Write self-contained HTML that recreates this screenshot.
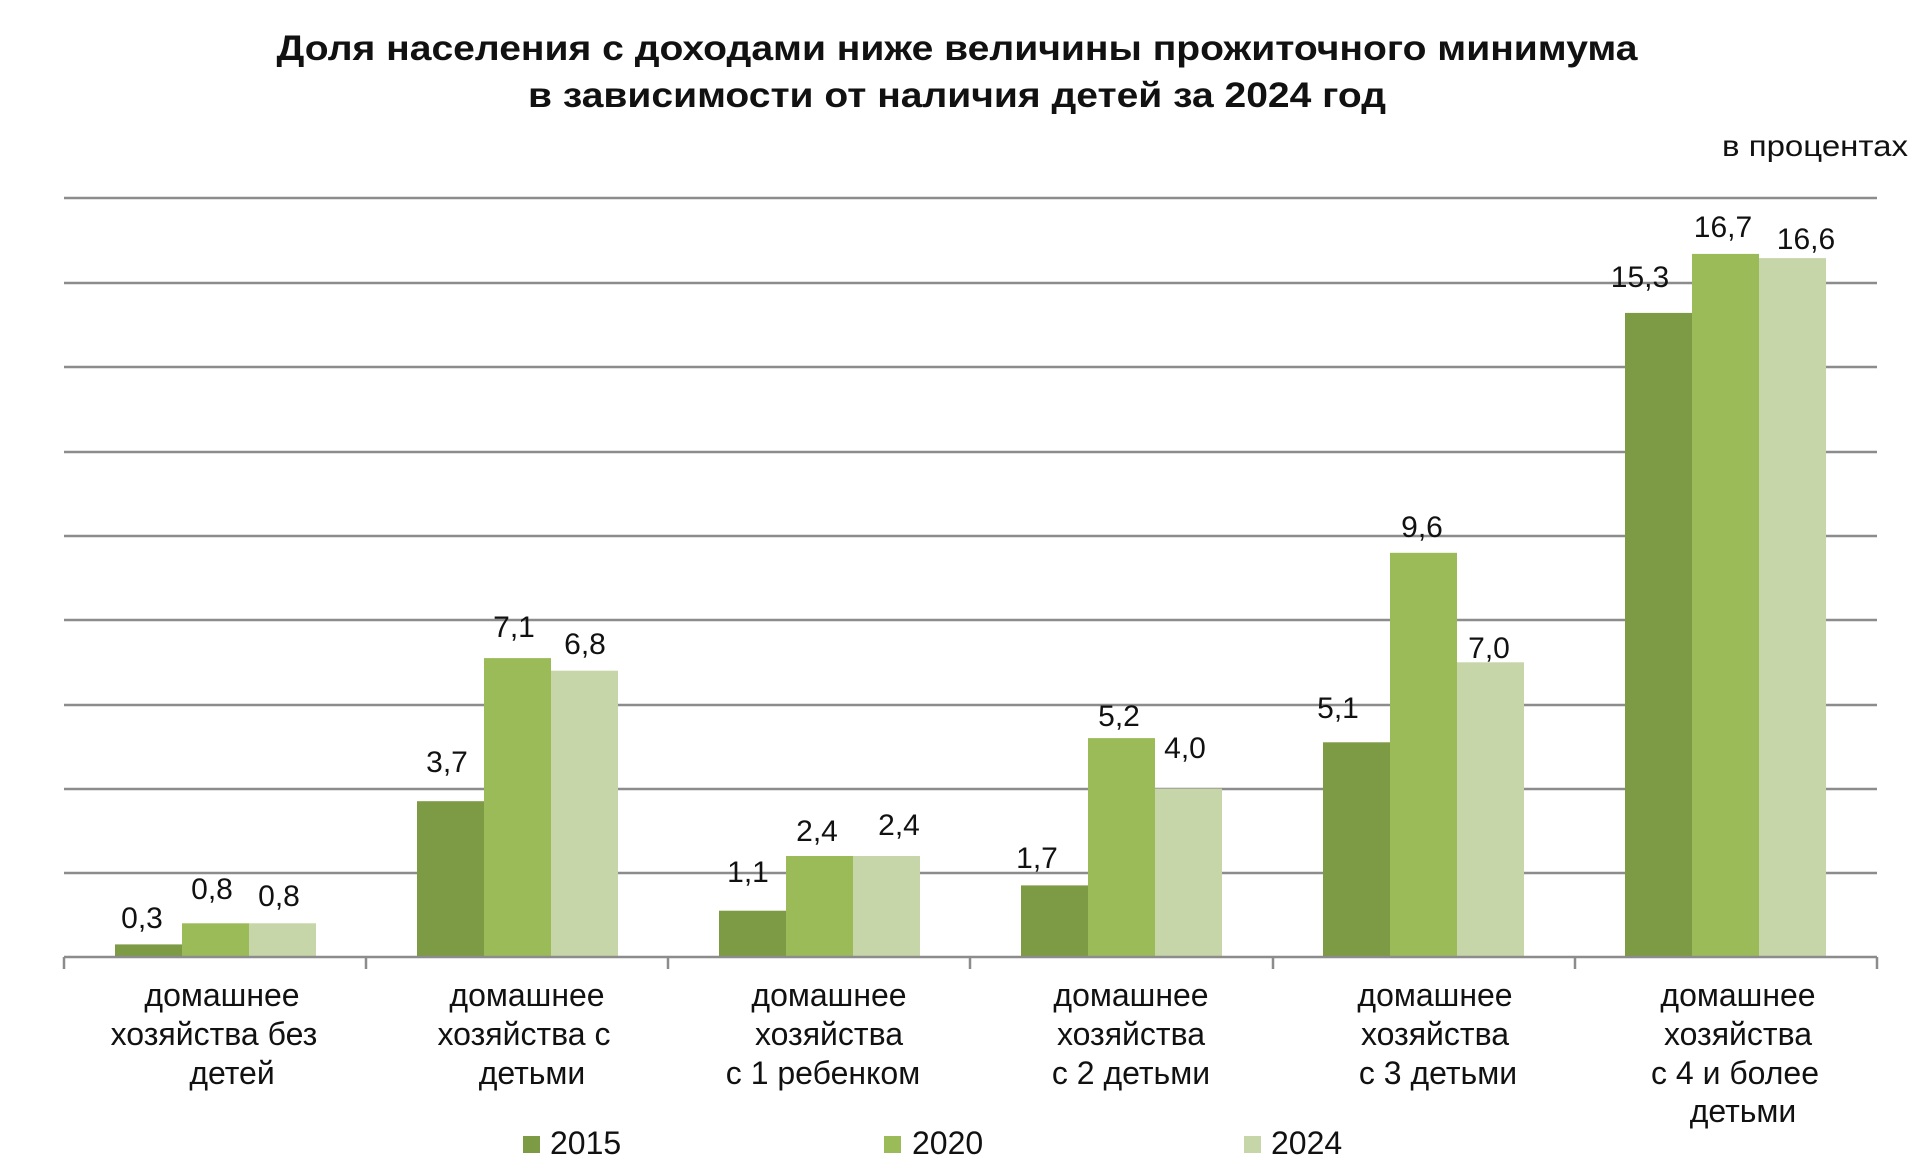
<!DOCTYPE html>
<html><head><meta charset="utf-8"><style>
html,body{margin:0;padding:0;background:#fff;}
svg{display:block;}
text{font-family:"Liberation Sans",sans-serif;fill:#111;}
.v{font-size:30px;}
.c{font-size:32px;}
</style></head><body>
<svg width="1920" height="1172" viewBox="0 0 1920 1172" xmlns="http://www.w3.org/2000/svg">
<text x="957" y="60" font-size="35" font-weight="bold" text-anchor="middle" textLength="1361" lengthAdjust="spacingAndGlyphs">Доля населения с доходами ниже величины прожиточного минимума</text>
<text x="957" y="107" font-size="35" font-weight="bold" text-anchor="middle" textLength="858" lengthAdjust="spacingAndGlyphs">в зависимости от наличия детей за 2024 год</text>
<text x="1908" y="156" font-size="30" text-anchor="end" textLength="186" lengthAdjust="spacingAndGlyphs">в процентах</text>
<g stroke="#8c8c8c" stroke-width="2.5">
<line x1="64" y1="198" x2="1877" y2="198"/>
<line x1="64" y1="283" x2="1877" y2="283"/>
<line x1="64" y1="367" x2="1877" y2="367"/>
<line x1="64" y1="452" x2="1877" y2="452"/>
<line x1="64" y1="536" x2="1877" y2="536"/>
<line x1="64" y1="620" x2="1877" y2="620"/>
<line x1="64" y1="705" x2="1877" y2="705"/>
<line x1="64" y1="789" x2="1877" y2="789"/>
<line x1="64" y1="873" x2="1877" y2="873"/>
</g>
<g>
<rect x="115" y="944.4" width="67" height="12.6" fill="#7d9a45"/><rect x="182" y="923.3" width="67" height="33.7" fill="#9bbb59"/><rect x="249" y="923.3" width="67" height="33.7" fill="#c7d6a9"/>
<rect x="417" y="801.2" width="67" height="155.8" fill="#7d9a45"/><rect x="484" y="658.1" width="67" height="298.9" fill="#9bbb59"/><rect x="551" y="670.7" width="67" height="286.3" fill="#c7d6a9"/>
<rect x="719" y="910.7" width="67" height="46.3" fill="#7d9a45"/><rect x="786" y="856" width="67" height="101" fill="#9bbb59"/><rect x="853" y="856" width="67" height="101" fill="#c7d6a9"/>
<rect x="1021" y="885.4" width="67" height="71.6" fill="#7d9a45"/><rect x="1088" y="738.1" width="67" height="218.9" fill="#9bbb59"/><rect x="1155" y="788.6" width="67" height="168.4" fill="#c7d6a9"/>
<rect x="1323" y="742.3" width="67" height="214.7" fill="#7d9a45"/><rect x="1390" y="552.8" width="67" height="404.2" fill="#9bbb59"/><rect x="1457" y="662.3" width="67" height="294.7" fill="#c7d6a9"/>
<rect x="1625" y="312.9" width="67" height="644.1" fill="#7d9a45"/><rect x="1692" y="253.9" width="67" height="703.1" fill="#9bbb59"/><rect x="1759" y="258.1" width="67" height="698.9" fill="#c7d6a9"/>
</g>
<g stroke="#8c8c8c" stroke-width="2.5">
<line x1="64" y1="957" x2="1877" y2="957"/>
<line x1="64" y1="957" x2="64" y2="969"/><line x1="366" y1="957" x2="366" y2="969"/><line x1="668" y1="957" x2="668" y2="969"/><line x1="970" y1="957" x2="970" y2="969"/><line x1="1273" y1="957" x2="1273" y2="969"/><line x1="1575" y1="957" x2="1575" y2="969"/><line x1="1877" y1="957" x2="1877" y2="969"/>
</g>
<g class="v" text-anchor="middle">
<text x="142" y="928">0,3</text><text x="212" y="899">0,8</text><text x="279" y="906">0,8</text>
<text x="447" y="772">3,7</text><text x="514" y="637">7,1</text><text x="585" y="654">6,8</text>
<text x="748" y="882">1,1</text><text x="817" y="841">2,4</text><text x="899" y="835">2,4</text>
<text x="1037" y="868">1,7</text><text x="1119" y="726">5,2</text><text x="1185" y="758">4,0</text>
<text x="1338" y="718">5,1</text><text x="1422" y="537">9,6</text><text x="1489" y="658">7,0</text>
<text x="1640" y="287">15,3</text><text x="1723" y="237">16,7</text><text x="1806" y="249">16,6</text>
</g>
<g class="c" text-anchor="middle">
<text x="222" y="1006">домашнее</text><text x="214" y="1045">хозяйства без</text><text x="232" y="1084">детей</text>
<text x="527" y="1006">домашнее</text><text x="524" y="1045">хозяйства с</text><text x="532" y="1084">детьми</text>
<text x="829" y="1006">домашнее</text><text x="829" y="1045">хозяйства</text><text x="823" y="1084">с 1 ребенком</text>
<text x="1131" y="1006">домашнее</text><text x="1131" y="1045">хозяйства</text><text x="1131" y="1084">с 2 детьми</text>
<text x="1435" y="1006">домашнее</text><text x="1435" y="1045">хозяйства</text><text x="1438" y="1084">с 3 детьми</text>
<text x="1738" y="1006">домашнее</text><text x="1738" y="1045">хозяйства</text><text x="1735" y="1084">с 4 и более</text><text x="1743" y="1122">детьми</text>
</g>
<rect x="523" y="1136" width="17" height="17" fill="#7d9a45"/><text x="550" y="1154" font-size="32">2015</text>
<rect x="884" y="1136" width="17" height="17" fill="#9bbb59"/><text x="912" y="1154" font-size="32">2020</text>
<rect x="1244" y="1136" width="17" height="17" fill="#c7d6a9"/><text x="1271" y="1154" font-size="32">2024</text>
</svg>
</body></html>
